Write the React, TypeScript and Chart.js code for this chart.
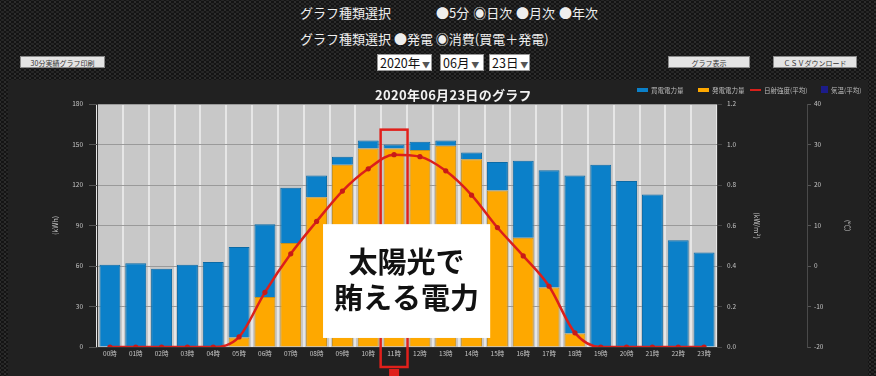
import React, { useEffect, useRef } from "react";
import { Chart, registerables } from "chart.js";

Chart.register(...registerables);

// ---- data ----
const hours = [
  "00時", "01時", "02時", "03時", "04時", "05時", "06時", "07時", "08時", "09時", "10時", "11時",
  "12時", "13時", "14時", "15時", "16時", "17時", "18時", "19時", "20時", "21時", "22時", "23時",
];
// 発電電力量 (kWh) - bottom of stack
const generationKWh = [0, 0, 0, 0, 0, 7, 37, 77, 111, 135, 147, 147, 146, 149, 139, 116, 81, 44, 10, 0, 0, 0, 0, 0];
// 買電電力量 (kWh) - top of stack
const purchaseKWh = [61, 62, 58, 61, 63, 67, 54, 41, 16, 6, 6, 3, 6, 4, 5, 21, 57, 87, 117, 135, 123, 113, 79, 70];
// 日射強度(平均) kW/m2
const irradianceAvg = [0, 0, 0, 0, 0, 0.05, 0.27, 0.46, 0.62, 0.77, 0.88, 0.95, 0.94, 0.87, 0.75, 0.59, 0.45, 0.3, 0.07, 0, 0, 0, 0, 0];
// 気温(平均) ℃ - no values drawn in the reference
const temperatureAvg: (number | null)[] = [];

const legendLabels = ["買電電力量", "発電電力量", "日射強度(平均)", "気温(平均)"];
const legendColors = ["#0b80c9", "#fea800", "#d8201b", "#1c1c8a"];

const highlightHour = 11;
const chartTitle = "2020年06月23日のグラフ";
const annotationLines = ["太陽光で", "賄える電力"];

const BLUE = "#0b80c9";
const ORANGE = "#fea800";
const RED = "#dc1f1b";
const TICK = "#c4c4c4";
const JP = '"Noto Sans CJK JP", "Noto Sans", sans-serif';

const overlayPlugin = {
  id: "overlay",
  beforeDraw(chart: any) {
    const { ctx, chartArea: a } = chart;
    ctx.save();
    ctx.fillStyle = "#c8c8c8";
    ctx.fillRect(a.left, a.top, a.right - a.left, a.bottom - a.top);
    ctx.restore();
  },
  afterDraw(chart: any) {
    const { ctx } = chart;
    const xs = chart.scales.x;
    const ys = chart.scales.y;
    const slot = xs.getPixelForValue(1) - xs.getPixelForValue(0);
    ctx.save();
    // red highlight around the noon bar
    const cx = xs.getPixelForValue(highlightHour);
    const top = ys.getPixelForValue(161);
    const bottom = chart.height - 9;
    ctx.strokeStyle = "#e0201b";
    ctx.lineWidth = 2.5;
    ctx.strokeRect(cx - slot * 0.52, top, slot * 1.04, bottom - top);
    ctx.fillStyle = "#e0201b";
    ctx.fillRect(cx - 5, bottom + 2, 10, 8);

    // white annotation box
    const bx0 = xs.getPixelForValue(8.25);
    const bx1 = xs.getPixelForValue(14.72);
    const by0 = ys.getPixelForValue(91);
    const by1 = ys.getPixelForValue(6.7);
    ctx.fillStyle = "#ffffff";
    ctx.fillRect(bx0, by0, bx1 - bx0, by1 - by0);
    ctx.fillStyle = "#111111";
    ctx.font = `bold 29px ${JP}`;
    ctx.textAlign = "center";
    ctx.textBaseline = "middle";
    const mid = (bx0 + bx1) / 2;
    const h = by1 - by0;
    ctx.fillText(annotationLines[0], mid, by0 + h * 0.33);
    ctx.fillText(annotationLines[1], mid, by0 + h * 0.65);
    ctx.restore();
  },
};

function ChartPanel() {
  const ref = useRef<HTMLCanvasElement | null>(null);
  useEffect(() => {
    document.body.style.margin = "0";
    const canvas = ref.current;
    if (!canvas) return;
    const tickFont = { size: 6.5, family: JP };
    const chart = new Chart(canvas, {
      type: "bar",
      data: {
        labels: hours,
        datasets: [
          {
            type: "line",
            label: legendLabels[2],
            data: irradianceAvg,
            yAxisID: "y1",
            borderColor: RED,
            backgroundColor: RED,
            borderWidth: 2.5,
            pointRadius: 2.6,
            pointBackgroundColor: "#c81a17",
            pointBorderWidth: 0,
            tension: 0.3,
            cubicInterpolationMode: "monotone",
            order: 0,
          } as any,
          {
            type: "line",
            label: legendLabels[3],
            data: temperatureAvg,
            yAxisID: "y2",
            borderColor: legendColors[3],
            backgroundColor: legendColors[3],
            order: 0,
          } as any,
          {
            type: "bar",
            label: legendLabels[1],
            data: generationKWh,
            backgroundColor: ORANGE,
            borderColor: "#c8901a",
            borderWidth: 1,
            yAxisID: "y",
            stack: "kwh",
            order: 1,
          },
          {
            type: "bar",
            label: legendLabels[0],
            data: purchaseKWh,
            backgroundColor: BLUE,
            borderColor: "#0a6aa6",
            borderWidth: 1,
            yAxisID: "y",
            stack: "kwh",
            order: 1,
          },
        ],
      },
      options: {
        responsive: false,
        animation: false,
        devicePixelRatio: 1,
        layout: { padding: { left: 30, right: 0, top: 24, bottom: 17 } },
        datasets: { bar: { barPercentage: 0.81, categoryPercentage: 1 } },
        plugins: {
          legend: { display: false },
          title: { display: false },
          tooltip: { enabled: false },
        },
        scales: {
          x: {
            stacked: true,
            offset: true,
            grid: { offset: true, color: "#e6e6e6", lineWidth: 2, drawTicks: false },
            border: { color: "#333" },
            ticks: { color: TICK, font: tickFont, padding: 3, maxRotation: 0, autoSkip: false },
            afterFit: (s: any) => { s.height = 12; },
          },
          y: {
            stacked: true,
            position: "left",
            min: 0,
            max: 180,
            ticks: { stepSize: 30, color: TICK, font: tickFont, padding: 6 },
            grid: { color: "#9a9a9a", tickColor: "#555", tickLength: 8 },
            border: { color: "#333" },
            title: { display: true, text: "(kWh)", color: TICK, font: { size: 7, family: JP }, padding: { top: 13, bottom: 0 } },
            afterFit: (s: any) => { s.width = 59; },
          },
          y1: {
            position: "right",
            min: 0,
            max: 1.2,
            ticks: { stepSize: 0.2, color: TICK, font: tickFont, padding: 5, callback: (v: any) => Number(v).toFixed(1) },
            grid: { drawOnChartArea: false, color: "#444", tickLength: 5 },
            border: { color: "#3a3a3a" },
            title: { display: true, text: "(kW/m²)", color: TICK, font: { size: 7, family: JP }, padding: { top: 46, bottom: 0 } },
            afterFit: (s: any) => { s.width = 90; },
          },
          y2: {
            position: "right",
            min: -20,
            max: 40,
            ticks: { stepSize: 10, color: TICK, font: tickFont, padding: 3 },
            grid: { drawOnChartArea: false, color: "#555", tickLength: 4 },
            border: { color: "#4a4a4a" },
            title: { display: true, text: "(℃)", color: TICK, font: { size: 7, family: JP }, padding: { top: 16, bottom: 0 } },
            afterFit: (s: any) => { s.width = 61; },
          },
        },
      },
      plugins: [overlayPlugin],
    });
    return () => chart.destroy();
  }, []);
  return <canvas ref={ref} width={860} height={296} style={{ width: 860, height: 296, display: "block" }} />;
}

const abs = (l: number, t: number, extra: React.CSSProperties = {}): React.CSSProperties => ({
  position: "absolute",
  left: l,
  top: t,
  whiteSpace: "nowrap",
  ...extra,
});

const btn: React.CSSProperties = {
  background: "#e4e4e4",
  border: "1px solid #8a8a8a",
  color: "#333",
  fontSize: 7,
  height: 12,
  lineHeight: "12px",
  textAlign: "center",
  boxSizing: "border-box",
};

const sel: React.CSSProperties = {
  background: "#fff",
  border: "1px solid #999",
  color: "#111",
  fontSize: 12.5,
  height: 17,
  lineHeight: "15px",
  paddingLeft: 2,
  boxSizing: "border-box",
};

export default function App() {
  return (
    <div
      style={{
        position: "relative",
        width: 876,
        height: 376,
        overflow: "hidden",
        fontFamily: JP,
        backgroundColor: "#333333",
        backgroundImage:
          "radial-gradient(circle, #141414 1.2px, transparent 1.7px), radial-gradient(circle, #141414 1.2px, transparent 1.7px)",
        backgroundSize: "5px 4px",
        backgroundPosition: "0 0, 2.5px 2px",
      }}
    >
      <div style={abs(300, 3, { color: "#eee", fontSize: 13 })}>グラフ種類選択</div>
      <div style={abs(436, 3, { color: "#eee", fontSize: 13, wordSpacing: 1 })}>●5分 ◉日次 ●月次 ●年次</div>
      <div style={abs(300, 29, { color: "#eee", fontSize: 13 })}>グラフ種類選択 ●発電 ◉消費(買電＋発電)</div>

      <div style={abs(20, 56, { ...btn, width: 85 })}>30分実績グラフ印刷</div>
      <div style={abs(377, 54, { ...sel, width: 55 })}>2020年<span style={{ fontSize: 8, color: "#555" }}> ▼</span></div>
      <div style={abs(440, 54, { ...sel, width: 44 })}>06月<span style={{ fontSize: 8, color: "#555" }}> ▼</span></div>
      <div style={abs(489, 54, { ...sel, width: 41 })}>23日<span style={{ fontSize: 8, color: "#555" }}> ▼</span></div>
      <div style={abs(668, 56, { ...btn, width: 82 })}>グラフ表示</div>
      <div style={abs(773, 56, { ...btn, width: 84 })}>ＣＳＶダウンロード</div>

      <div style={abs(8, 80, { width: 860, height: 296, background: "#212121" })}>
        <ChartPanel />
      </div>

      <div style={abs(375, 85, { color: "#f2f2f2", fontSize: 13, fontWeight: "bold", letterSpacing: 0.3 })}>{chartTitle}</div>

      {legendLabels.map((lab, i) => {
        const lefts = [637, 698, 750, 821];
        const isLine = i === 2;
        const isBox = i === 3;
        return (
          <div key={lab} style={abs(lefts[i], 85, { display: "flex", alignItems: "center", height: 9 })}>
            <div
              style={{
                width: isBox ? 7 : 11,
                height: isBox ? 7 : isLine ? 2 : 4,
                background: legendColors[i],
                marginRight: 3,
              }}
            />
            <span style={{ color: "#bdbdbd", fontSize: 6.5 }}>{lab}</span>
          </div>
        );
      })}
    </div>
  );
}
